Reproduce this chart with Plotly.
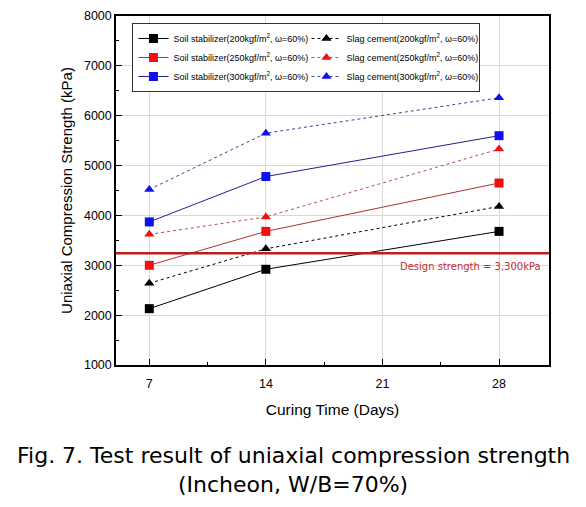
import plotly.graph_objects as go

days = [7, 14, 28]
soil_200 = [2130, 2920, 3680]
slag_200 = [2640, 3330, 4180]
soil_250 = [3000, 3680, 4650]
slag_250 = [3620, 3970, 5330]
soil_300 = [3870, 4780, 5600]
slag_300 = [4520, 5650, 6360]
design_strength = 3240
design_label = "Design strength = 3,300kPa"

names = [
    "Soil stabilizer(200kgf/m<sup>2</sup>, ω=60%)",
    "Slag cement(200kgf/m<sup>2</sup>, ω=60%)",
    "Soil stabilizer(250kgf/m<sup>2</sup>, ω=60%)",
    "Slag cement(250kgf/m<sup>2</sup>, ω=60%)",
    "Soil stabilizer(300kgf/m<sup>2</sup>, ω=60%)",
    "Slag cement(300kgf/m<sup>2</sup>, ω=60%)",
]
series = [soil_200, slag_200, soil_250, slag_250, soil_300, slag_300]
mcolors = ["#000000", "#000000", "#ee1111", "#ee1111", "#1010ee", "#1010ee"]
lcolors = ["#000000", "#000000", "#b03030", "#b05050", "#202090", "#4040a0"]
symbols = ["square", "triangle-up", "square", "triangle-up", "square", "triangle-up"]
dashes = ["solid", "dot", "solid", "dot", "solid", "dot"]

fig = go.Figure()
for n, s, mc, lc, sym, d in zip(names, series, mcolors, lcolors, symbols, dashes):
    fig.add_trace(go.Scatter(
        x=days, y=s, mode="lines+markers", name=n,
        line=dict(color=lc, width=1, dash=d),
        marker=dict(symbol=sym, size=9, color=mc),
    ))

fig.add_shape(type="line", xref="paper", x0=0, x1=1, yref="y",
              y0=design_strength, y1=design_strength,
              line=dict(color="#b52020", width=2.5))
fig.add_annotation(x=1, xref="paper", xanchor="right", xshift=-6,
                   y=design_strength, yref="y", yanchor="top", yshift=-6,
                   text=design_label, showarrow=False,
                   font=dict(size=10, color="#c03030", family="DejaVu Sans"))

fig.add_annotation(x=0.409, xref="paper", y=-0.258, yref="paper",
                   text="Fig. 7. Test result of uniaxial compression strength",
                   showarrow=False, xanchor="center", yanchor="middle",
                   font=dict(size=22, color="black", family="DejaVu Sans"))
fig.add_annotation(x=0.409, xref="paper", y=-0.343, yref="paper",
                   text="(Incheon, W/B=70%)",
                   showarrow=False, xanchor="center", yanchor="middle",
                   font=dict(size=22, color="black", family="DejaVu Sans"))

fig.update_layout(
    width=578, height=499,
    margin=dict(l=108, r=37, t=8, b=142, autoexpand=False),
    plot_bgcolor="white", paper_bgcolor="white",
    font=dict(family="Liberation Sans", size=12, color="black"),
    showlegend=True,
    legend=dict(
        orientation="h", x=0.038, y=0.98, xanchor="left", yanchor="top",
        bordercolor="#333333", borderwidth=1, bgcolor="white",
        font=dict(size=9, family="Liberation Sans"),
        entrywidth=128, entrywidthmode="pixels",
        itemwidth=30, tracegroupgap=0,
    ),
    xaxis=dict(
        range=[5, 31], tickvals=[7, 14, 21, 28], automargin=False,
        showgrid=True, gridcolor="#d8d8d8", gridwidth=1,
        showline=True, linecolor="black", linewidth=1.5, mirror=True,
        ticks="inside", ticklen=6, tickcolor="black",
        minor=dict(tickvals=[10.5, 17.5, 24.5], ticks="inside", ticklen=3, tickcolor="black"),
        zeroline=False, ticklabelstandoff=6,
        title=dict(text="Curing Time (Days)", font=dict(size=15.5), standoff=14),
        tickfont=dict(size=12.5),
    ),
    yaxis=dict(
        range=[1000, 8000], dtick=1000, automargin=False,
        showgrid=True, gridcolor="#d8d8d8", gridwidth=1,
        showline=True, linecolor="black", linewidth=1.5, mirror=True,
        ticks="inside", ticklen=6, tickcolor="black",
        minor=dict(dtick=500, ticks="inside", ticklen=3, tickcolor="black", showgrid=False),
        zeroline=False,
        title=dict(text="Uniaxial Compression Strength (kPa)", font=dict(size=15), standoff=8),
        tickfont=dict(size=12.5),
    ),
)

fig.write_html("out.html")
